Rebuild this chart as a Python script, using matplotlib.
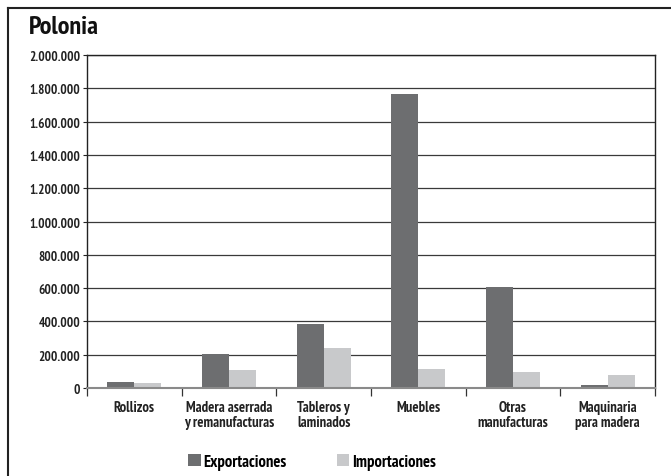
import matplotlib
matplotlib.use('Agg')
import matplotlib.pyplot as plt
import matplotlib.ticker as ticker
from matplotlib.lines import Line2D
import numpy as np

categorias = ["Rollizos", "Madera aserrada\ny remanufacturas", "Tableros y\nlaminados",
              "Muebles", "Otras\nmanufacturas", "Maquinaria\npara madera"]
exportaciones = [36000, 204000, 384000, 1765000, 605000, 18000]
importaciones = [30000, 110000, 240000, 114000, 96000, 78000]
series_names = ["Exportaciones", "Importaciones"]
yticks = list(range(0, 2000001, 200000))

plt.rcParams['font.family'] = ['PT Sans Narrow', 'DejaVu Sans']
plt.rcParams['font.weight'] = 'bold'

fig = plt.figure(figsize=(6.71, 4.77), dpi=100)
ax = fig.add_axes([87/671, 1-389/477, (655-87)/671, (389-56)/477])

x = np.arange(len(categorias))
w = 0.285
ax.bar(x - w/2, exportaciones, w, color='#6d6e70', label=series_names[0], zorder=3)
ax.bar(x + w/2, importaciones, w, color='#c8c9cb', label=series_names[1], zorder=3)

ax.set_xlim(-0.5, len(categorias) - 0.5)
ax.set_ylim(0, 2000000)
ax.set_yticks(yticks)
ax.yaxis.set_major_formatter(ticker.FuncFormatter(lambda v, p: f"{int(v):,}".replace(",", ".")))
ax.yaxis.grid(True, color='#3a3a3a', linewidth=0.9, zorder=1)
ax.tick_params(axis='y', length=3, width=0.8, labelsize=9.5, pad=2, colors='#222222')

ax.set_xticks(x)
ax.set_xticklabels(categorias, fontsize=10.5, fontweight='bold', color='#222222', linespacing=1.05)
ax.set_xticks(np.arange(-0.5, len(categorias)), minor=True)
ax.tick_params(axis='x', which='major', length=0, pad=9)
ax.tick_params(axis='x', which='minor', length=6, width=0.9, direction='out', color='#333333')

for s in ['left', 'right', 'top']:
    ax.spines[s].set_color('#222222')
    ax.spines[s].set_linewidth(1.0)
ax.spines['bottom'].set_color('#8a8a8a')
ax.spines['bottom'].set_linewidth(1.5)
ax.spines['bottom'].set_zorder(4)

fig.text(29/671, 1-34/477, "Polonia", fontsize=19, fontweight='bold', color='#111111',
         ha='left', va='baseline')

# outer frame
fig.add_artist(Line2D([8/671, 8/671], [0, 1-9/477], color='#222222', linewidth=1.5))
fig.add_artist(Line2D([8/671, 1], [1-9/477, 1-9/477], color='#222222', linewidth=1.5))

fig.legend(loc='center', bbox_to_anchor=(312/671, 1-463/477), ncol=2, frameon=False,
           handlelength=0.75, handleheight=0.75, handletextpad=0.15,
           columnspacing=3.0, prop={'weight': 'bold', 'size': 12})

fig.savefig("out.png", dpi=100)
